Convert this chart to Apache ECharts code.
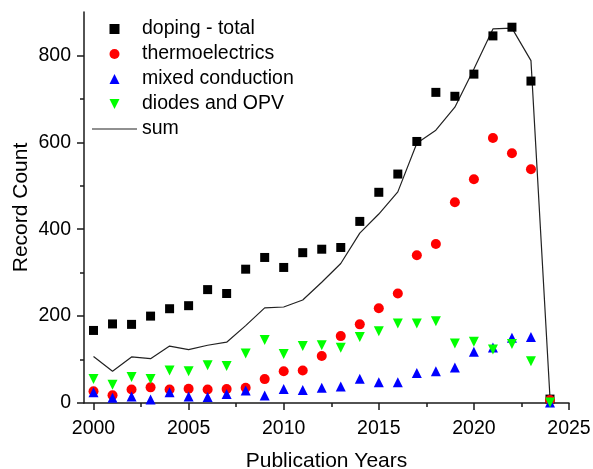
<!DOCTYPE html>
<html>
<head>
<meta charset="utf-8">
<script src="https://cdn.jsdelivr.net/npm/echarts@6/dist/echarts.min.js"></script>
<style>
  html, body { margin: 0; padding: 0; background: #fff; }
  #chart { width: 593px; height: 469px; }
</style>
</head>
<body>
<div id="chart"></div>
<script>
// Publication years and record counts per topic
const years = [2000, 2001, 2002, 2003, 2004, 2005, 2006, 2007, 2008, 2009, 2010, 2011,
               2012, 2013, 2014, 2015, 2016, 2017, 2018, 2019, 2020, 2021, 2022, 2023, 2024];
const dopingTotal = [167, 182, 181, 200, 217, 224, 261, 252, 308, 335, 312, 346,
                     354, 358, 418, 485, 527, 602, 715, 706, 757, 845, 865, 741, 9];
const thermoelectrics = [27, 18, 31, 36, 31, 33, 31, 32, 35, 55, 73, 75,
                         108, 154, 181, 218, 252, 340, 366, 462, 515, 610, 575, 538, 7];
const mixedConduction = [25, 12, 15, 8, 25, 15, 14, 21, 29, 17, 32, 30,
                         35, 38, 56, 48, 48, 69, 73, 82, 118, 128, 150, 152, 1];
const diodesOPV = [55, 42, 60, 55, 75, 73, 87, 85, 114, 145, 113, 131,
                   133, 127, 152, 165, 183, 183, 188, 137, 141, 123, 136, 96, 1];
const sumCounts = [107, 73, 106, 102, 131, 123, 133, 140, 178, 219, 221, 237,
                   278, 321, 391, 435, 486, 598, 628, 681, 769, 861, 863, 788, 12];

// Axis ticks
const xMajorTicks = [2000, 2005, 2010, 2015, 2020, 2025];
const xMinorTicks = [2002.5, 2007.5, 2012.5, 2017.5, 2022.5];
const yMajorTicks = [0, 200, 400, 600, 800];
const yMinorTicks = [100, 300, 500, 700];

const FONT = '"Liberation Sans", Arial, Helvetica, sans-serif';
const pairs = vals => years.map((y, i) => [y, vals[i]]);
const plain = v => String(v);

const axisLineStyle = { color: '#1a1a1a', width: 1.5 };

// Legend icons as paths so they keep their aspect inside a wide icon box
const ICON_SQUARE = 'path://M0,0 L10,0 L10,10 L0,10 Z';
const ICON_CIRCLE = 'path://M0,5 A5,5 0 1,1 10,5 A5,5 0 1,1 0,5 Z';
const ICON_UP = 'path://M5,0 L10,10 L0,10 Z';
const ICON_DOWN = 'path://M0,0 L10,0 L5,10 Z';
const ICON_LINE = 'path://M0,0 L45,0 L45,1.2 L0,1.2 Z';

const chart = echarts.init(document.getElementById('chart'), null, { renderer: 'canvas' });

chart.setOption({
  animation: false,
  backgroundColor: '#ffffff',
  textStyle: { fontFamily: FONT },
  grid: { left: 84, right: 24, top: 12, bottom: 66, containLabel: false, outerBoundsMode: 'none' },
  legend: {
    orient: 'vertical',
    left: 87,
    top: 14,
    itemWidth: 45,
    itemHeight: 10,
    itemGap: 5,
    symbolKeepAspect: true,
    textStyle: { fontFamily: FONT, fontSize: 19.5, color: '#000' },
    data: [
      { name: 'doping - total', icon: ICON_SQUARE },
      { name: 'thermoelectrics', icon: ICON_CIRCLE },
      { name: 'mixed conduction', icon: ICON_UP },
      { name: 'diodes and OPV', icon: ICON_DOWN },
      { name: 'sum', icon: ICON_LINE, itemStyle: { color: '#222' } }
    ]
  },
  xAxis: [
    {
      type: 'value',
      min: 1999.5,
      max: 2025,
      name: 'Publication Years',
      nameLocation: 'middle',
      nameGap: 48,
      nameTextStyle: { fontFamily: FONT, fontSize: 21, color: '#000' },
      axisLine: { show: true, onZero: false, lineStyle: axisLineStyle },
      axisTick: { show: true, length: 7, customValues: xMajorTicks, lineStyle: axisLineStyle },
      axisLabel: { customValues: xMajorTicks, formatter: plain, margin: 16, fontFamily: FONT, fontSize: 19.5, color: '#000' },
      splitLine: { show: false }
    },
    {
      type: 'value',
      min: 1999.5,
      max: 2025,
      position: 'bottom',
      axisLine: { show: false },
      axisTick: { show: true, length: 4, customValues: xMinorTicks, lineStyle: axisLineStyle },
      axisLabel: { show: false },
      splitLine: { show: false }
    }
  ],
  yAxis: [
    {
      type: 'value',
      min: 0,
      max: 900,
      name: 'Record Count',
      nameLocation: 'middle',
      nameGap: 52,
      nameMoveOverlap: false,
      nameTextStyle: { fontFamily: FONT, fontSize: 21, color: '#000' },
      axisLine: { show: true, onZero: false, lineStyle: axisLineStyle },
      axisTick: { show: true, length: 7, customValues: yMajorTicks, lineStyle: axisLineStyle },
      axisLabel: { customValues: yMajorTicks, formatter: plain, margin: 13, fontFamily: FONT, fontSize: 19.5, color: '#000' },
      splitLine: { show: false }
    },
    {
      type: 'value',
      min: 0,
      max: 900,
      position: 'left',
      axisLine: { show: false },
      axisTick: { show: true, length: 4, customValues: yMinorTicks, lineStyle: axisLineStyle },
      axisLabel: { show: false },
      splitLine: { show: false }
    }
  ],
  series: [
    {
      name: 'sum',
      type: 'line',
      data: pairs(sumCounts),
      symbol: 'none',
      lineStyle: { color: '#222', width: 1.2 },
      itemStyle: { color: '#222' },
      z: 1
    },
    {
      name: 'doping - total',
      type: 'scatter',
      data: pairs(dopingTotal),
      symbol: 'rect',
      symbolSize: 9,
      itemStyle: { color: '#000', opacity: 1 },
      z: 2
    },
    {
      name: 'thermoelectrics',
      type: 'scatter',
      data: pairs(thermoelectrics),
      symbol: 'circle',
      symbolSize: 10,
      itemStyle: { color: '#ff0000', opacity: 1 },
      z: 3
    },
    {
      name: 'mixed conduction',
      type: 'scatter',
      data: pairs(mixedConduction),
      symbol: 'triangle',
      symbolSize: 10,
      itemStyle: { color: '#0000ff', opacity: 1 },
      z: 4
    },
    {
      name: 'diodes and OPV',
      type: 'scatter',
      data: pairs(diodesOPV),
      symbol: 'triangle',
      symbolRotate: 180,
      symbolSize: 10,
      itemStyle: { color: '#00ff00', opacity: 1 },
      z: 5
    }
  ]
});
</script>
</body>
</html>
